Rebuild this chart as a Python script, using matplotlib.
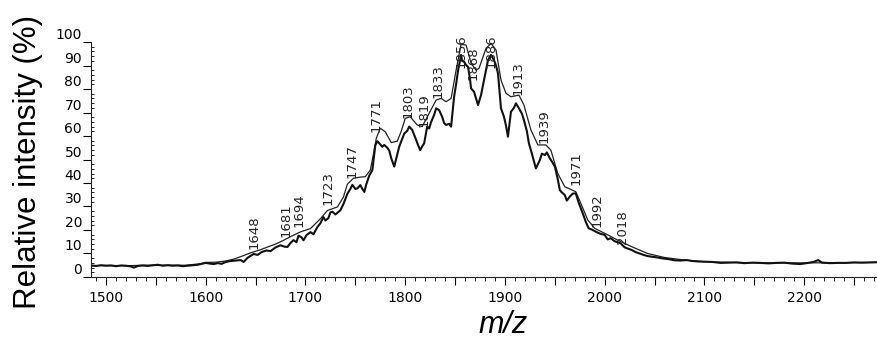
import numpy as np
import matplotlib
matplotlib.use('Agg')
import matplotlib.pyplot as plt
from matplotlib.ticker import MultipleLocator

# smooth (upper) trace
mz_upper = [1485, 1500, 1520, 1540, 1560, 1580, 1594, 1600, 1610, 1620, 1628, 1636,
            1645, 1655, 1661, 1670, 1678, 1686, 1695, 1705, 1715, 1722, 1732, 1738,
            1742, 1748, 1755, 1760, 1765, 1768, 1771, 1775, 1780, 1786, 1792, 1796,
            1800, 1805, 1812, 1817, 1824, 1831, 1836, 1841, 1846, 1851, 1856, 1861,
            1866, 1871, 1874, 1881, 1886, 1891, 1896, 1901, 1906, 1914, 1919, 1926,
            1933, 1941, 1946, 1953, 1960, 1971, 1976, 1983, 1990, 2000, 2013, 2027,
            2043, 2060, 2080, 2100, 2130, 2160, 2200, 2240, 2273]
int_upper = [4.8, 4.9, 4.8, 5.0, 5.0, 5.0, 5.6, 6.2, 6.3, 6.8, 7.6, 8.8,
             10.3, 11.6, 12.6, 14.0, 15.6, 17.4, 19.2, 20.6, 24.8, 28.3, 29.8, 34.0,
             39.5, 42.0, 42.5, 42.7, 45.5, 52.0, 59.0, 63.3, 61.8, 57.2, 57.8, 62.0,
             67.5, 68.2, 64.7, 64.0, 69.7, 75.3, 76.0, 74.6, 76.0, 88.0, 99.0, 98.7,
             91.0, 88.0, 88.8, 97.3, 99.4, 96.6, 83.8, 78.2, 76.7, 77.4, 73.2, 62.6,
             56.2, 56.2, 54.0, 44.0, 38.4, 36.3, 31.4, 24.3, 20.7, 18.6, 15.7, 12.9,
             10.0, 8.3, 7.2, 6.5, 6.2, 6.0, 6.0, 6.1, 6.2]

# noisy (lower) trace
mz_lower = [1485, 1490, 1495, 1500, 1505, 1510, 1515, 1520, 1525, 1528, 1532, 1537,
            1542, 1547, 1552, 1557, 1562, 1567, 1572, 1577, 1582, 1587, 1592, 1596,
            1600, 1604, 1608, 1612, 1616, 1620, 1625, 1630, 1635, 1638, 1642, 1648,
            1652, 1656, 1661, 1665, 1670, 1675, 1679, 1682, 1685, 1688, 1691, 1693,
            1696, 1698, 1701, 1705, 1708, 1712, 1715, 1718, 1720, 1723, 1725, 1727,
            1730, 1735, 1738, 1742, 1745, 1747, 1750, 1752, 1755, 1757, 1759, 1761,
            1764, 1767, 1770, 1772, 1774, 1777, 1779, 1782, 1784, 1786, 1789, 1792,
            1794, 1797, 1799, 1802, 1804, 1807, 1809, 1811, 1813, 1815, 1817, 1819,
            1821, 1822, 1824, 1826, 1829, 1831, 1834, 1837, 1839, 1841, 1844, 1846,
            1849, 1851, 1853, 1856, 1857, 1859, 1861, 1863, 1865, 1866, 1869, 1871,
            1873, 1876, 1879, 1881, 1883, 1886, 1889, 1891, 1893, 1896, 1899, 1901,
            1903, 1906, 1909, 1911, 1914, 1917, 1919, 1922, 1924, 1927, 1931, 1933,
            1935, 1937, 1940, 1942, 1945, 1948, 1950, 1953, 1955, 1957, 1960, 1962,
            1965, 1968, 1971, 1974, 1978, 1981, 1984, 1987, 1991, 1995, 2000, 2003,
            2006, 2010, 2013, 2016, 2020, 2024, 2027, 2031, 2035, 2039, 2043, 2048,
            2053, 2058, 2064, 2070, 2076, 2082, 2088, 2094, 2100, 2108, 2116, 2124,
            2132, 2140, 2148, 2156, 2164, 2172, 2180, 2188, 2196, 2204, 2210, 2214,
            2218, 2226, 2234, 2242, 2250, 2258, 2266, 2273]
int_lower = [4.9, 4.7, 5.0, 4.8, 4.9, 4.6, 4.9, 4.8, 4.5, 4.0, 4.7, 4.9,
             4.7, 5.0, 5.2, 4.8, 5.0, 4.8, 4.9, 4.6, 4.8, 5.0, 5.2, 5.6,
             6.0, 5.7, 5.5, 5.9, 5.6, 6.4, 6.8, 7.0, 7.2, 6.4, 8.2, 9.8,
             9.4, 10.6, 11.3, 11.0, 12.6, 13.5, 12.9, 12.8, 14.5, 15.7, 14.8, 17.6,
             16.9, 15.6, 17.8, 19.1, 18.2, 21.3, 22.9, 25.5, 24.0, 25.1, 27.5, 27.8,
             26.6, 28.4, 31.0, 35.4, 37.5, 39.2, 37.5, 37.7, 39.1, 37.5, 36.2, 39.5,
             43.2, 45.4, 56.0, 57.8, 56.9, 55.4, 56.2, 55.0, 53.8, 50.5, 47.0, 52.0,
             55.5, 58.8, 61.0, 62.2, 64.0, 62.6, 60.5, 58.3, 56.0, 54.0, 55.6, 56.9,
             61.5, 64.0, 63.2, 66.0, 69.0, 71.8, 71.0, 68.2, 65.5, 64.7, 65.2, 64.0,
             76.7, 82.0, 88.0, 94.5, 92.0, 91.6, 90.2, 89.4, 84.0, 80.3, 78.8, 76.0,
             73.2, 77.4, 83.8, 88.0, 92.3, 94.5, 92.3, 90.0, 86.7, 71.8, 68.2, 64.5,
             59.7, 70.3, 72.0, 73.9, 71.8, 69.5, 66.8, 62.0, 56.9, 52.5, 46.2, 48.0,
             49.8, 52.5, 51.9, 53.0, 50.5, 48.5, 47.0, 41.5, 37.0, 36.0, 34.9, 32.5,
             34.2, 35.5, 35.6, 31.5, 27.1, 23.5, 20.7, 20.2, 19.3, 18.5, 17.9, 16.0,
             16.5, 15.2, 14.8, 14.3, 12.6, 12.0, 11.5, 10.6, 10.0, 9.4, 8.9, 8.6,
             8.3, 7.9, 7.6, 7.1, 7.0, 7.2, 6.8, 6.6, 6.5, 6.4, 6.0, 6.1,
             6.2, 5.9, 6.1, 6.0, 5.8, 6.0, 6.1, 5.7, 5.5, 6.0, 6.5, 7.2,
             6.1, 5.9, 6.0, 6.0, 6.2, 6.1, 6.2, 6.3]

# peak annotations
peaks = [1648, 1681, 1694, 1723, 1747, 1771, 1803, 1819, 1833, 1856, 1868, 1886,
         1913, 1939, 1971, 1992, 2018]
label_y = [11.9, 17.0, 21.3, 30.6, 42.0, 61.7, 67.6, 64.0, 76.0, 89.0, 84.0, 89.0,
           77.4, 57.0, 39.0, 21.3, 14.0]

fig = plt.figure(figsize=(8.77, 3.41), dpi=100)
ax = fig.add_axes([0.1038, 0.1877, 0.8962, 0.6891])

ax.plot(mz_upper, int_upper, color='#222222', lw=0.9)
ax.plot(mz_lower, int_lower, color='#111111', lw=1.5)

for p, yy in zip(peaks, label_y):
    ax.text(p, yy, str(p), rotation=90, ha='center', va='bottom',
            fontsize=9.5, color='#222222')

ax.set_xlim(1485, 2273)
ax.set_ylim(0, 100)
ax.spines['top'].set_visible(False)
ax.spines['right'].set_visible(False)
ax.spines['left'].set_color('#222222')
ax.spines['bottom'].set_color('#222222')

# long ticks every 50, labels only on the hundreds
xt = np.arange(1500, 2300, 50)
ax.set_xticks(xt)
ax.set_xticklabels([str(v) if v % 100 == 0 else '' for v in xt])
ax.xaxis.set_minor_locator(MultipleLocator(10))
ax.set_yticks(np.arange(0, 101, 10))
ax.yaxis.set_minor_locator(MultipleLocator(2))
ax.tick_params(axis='x', which='major', length=6, direction='out', labelsize=10, pad=4)
ax.tick_params(axis='x', which='minor', length=3, direction='out')
ax.tick_params(axis='y', which='major', length=6, direction='out', labelsize=10, pad=0.5)
ax.tick_params(axis='y', which='minor', length=2.5, direction='in')
for lab in ax.get_yticklabels():
    lab.set_va('bottom')

fig.text(28 / 877, 1 - 161.5 / 341, 'Relative intensity (%)', rotation=90,
         ha='center', va='center', fontsize=22.5, family='Liberation Sans')
fig.text(503 / 877, 1 / 341, 'm/z', ha='center', va='bottom', fontsize=22,
         style='italic', family='Liberation Sans')

plt.savefig('out.png', dpi=100)
